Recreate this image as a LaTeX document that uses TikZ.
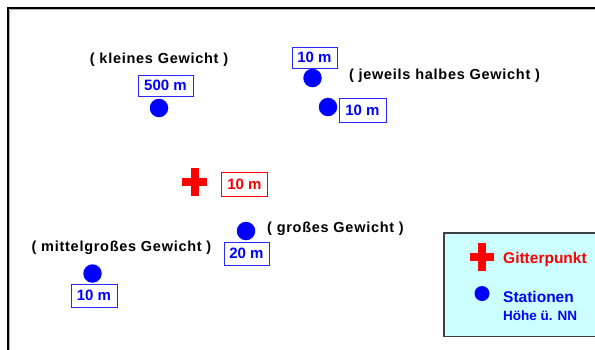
\documentclass[tikz,border=0pt]{standalone}
\usepackage{fontspec}
\setmainfont{Liberation Sans}
\newfontfamily\spaced{Liberation Sans}[LetterSpace=5]
\definecolor{stblue}{RGB}{0,0,255}
\definecolor{boxblue}{RGB}{40,40,255}
\definecolor{gpred}{RGB}{255,0,0}
\definecolor{legfill}{RGB}{204,255,255}
\definecolor{legdraw}{RGB}{64,64,64}
\tikzset{
  station/.style={circle,fill=stblue,inner sep=0pt,minimum size=18.5pt},
  legdot/.style={circle,fill=stblue,inner sep=0pt,minimum size=15pt},
  hbox/.style={draw=boxblue,line width=0.9pt,text=stblue,font=\bfseries\fontsize{15}{18}\selectfont,
    inner xsep=4pt,inner ysep=0pt,minimum height=23pt,minimum width=46pt,text height=10.8pt,text depth=0pt},
  rbox/.style={hbox,draw=gpred,text=gpred},
  weight/.style={font=\spaced\bfseries\fontsize{14.5}{17}\selectfont,text=black,inner sep=0pt},
  legtext/.style={font=\bfseries\fontsize{15.5}{18}\selectfont,inner sep=0pt,anchor=west},
  pics/gridcross/.style args={#1/#2}{code={
    \fill[gpred] (-#1/2,-4) rectangle (#1/2,4);
    \fill[gpred] (-4,-#2/2) rectangle (4,#2/2);
  }}
}
\begin{document}
\begin{tikzpicture}[x=1pt,y=-1pt]
\useasboundingbox (0,0) rectangle (595,349);
% outer frame
\draw[gray!60,line width=1pt] (9.5,9.5) -- (600,9.5);
\draw[gray!60,line width=1pt] (9.5,9.5) -- (9.5,360);
\draw[black,line width=2pt] (600,8) -- (8,8) -- (8,360);
% legend
\draw[fill=legfill,draw=legdraw,line width=1.3pt] (444,233) rectangle (610,336.5);
\coordinate (lc) at (482,257);
\pic at (lc) {gridcross=24/28};
\node[legtext,text=gpred] (lg) at (503,259) {Gitterpunkt};
\node[legdot] (ld) at (482,293.5) {};
\node[legtext,text=stblue] (ls) at (503,296.5) {Stationen};
\node[legtext,text=stblue,font=\bfseries\fontsize{13.5}{16}\selectfont] (lh) at (503,316) {Höhe ü. NN};
% grid point
\coordinate (gp) at (194.5,182);
\pic at (gp) {gridcross=25/28};
\node[rbox,minimum height=24pt] (gpl) at (244.5,184) {10 m};
% stations
\node[weight] (w1) at (159,60) {( kleines Gewicht )};
\node[hbox,minimum width=55pt,minimum height=21pt] (h1) at (165.5,85.5) {500 m};
\node[station] (s1) at (159,108) {};

\node[hbox,minimum width=45pt,minimum height=21pt] (h2) at (314.5,57.5) {10 m};
\node[station] (s2) at (312.5,78) {};
\node[weight] (w2) at (444.5,76) {( jeweils halbes Gewicht )};
\node[station] (s3) at (328,107) {};
\node[hbox,minimum width=47pt,minimum height=24pt] (h3) at (362.5,110) {10 m};

\node[station] (s4) at (246,231) {};
\node[weight] (w4) at (335.5,229) {( großes Gewicht )};
\node[hbox,minimum width=45pt] (h4) at (246.5,253.5) {20 m};

\node[weight] (w5) at (121.5,248) {( mittelgroßes Gewicht )};
\node[station] (s5) at (92.5,273.5) {};
\node[hbox] (h5) at (94,295.5) {10 m};
\end{tikzpicture}
\end{document}
